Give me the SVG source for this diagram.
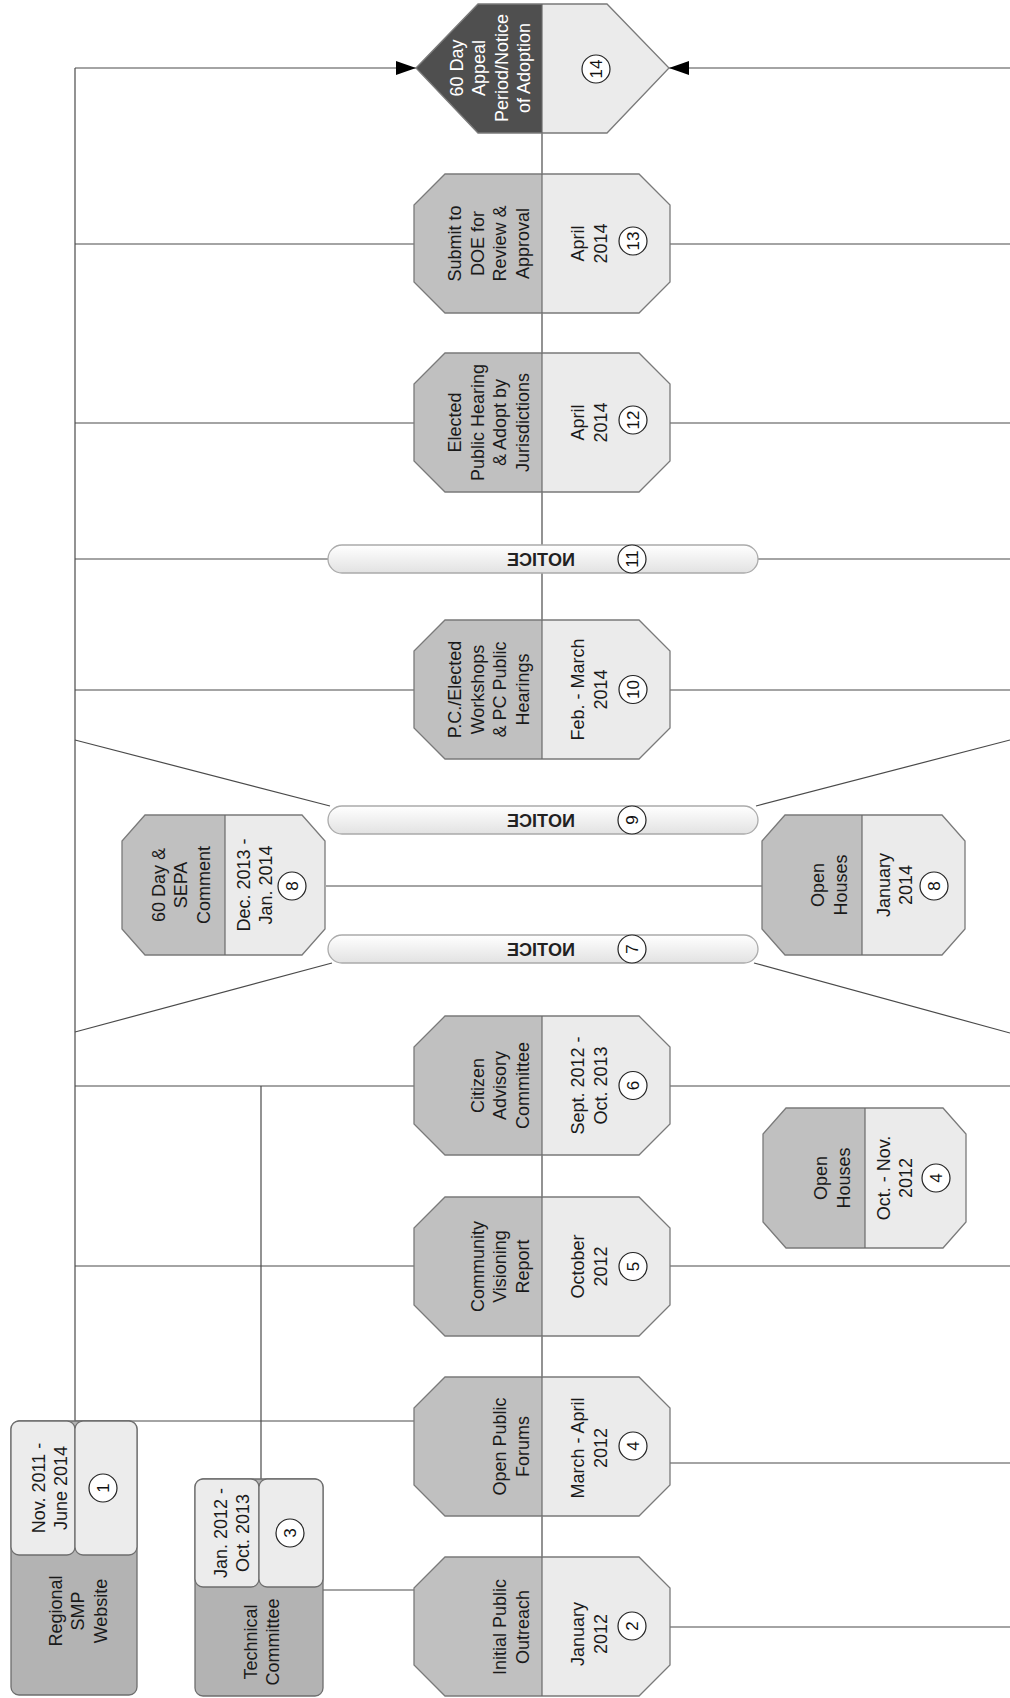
<svg xmlns="http://www.w3.org/2000/svg" width="1010" height="1698" viewBox="0 0 1010 1698">
<defs>
<marker id="arr" markerUnits="userSpaceOnUse" viewBox="0 0 20 14" refX="20" refY="7" markerWidth="20" markerHeight="14" orient="auto"><path d="M0,0 L20,7 L0,14 z" fill="#000"/></marker>
<linearGradient id="barg" x1="0" y1="0" x2="0" y2="1"><stop offset="0" stop-color="#ffffff"/><stop offset="1" stop-color="#e2e2e2"/></linearGradient>
</defs>
<style>
.c{stroke:#4a4a4a;stroke-width:1.2;fill:none}
.dk{fill:#c0c0c0}
.lt{fill:#ebebeb}
.ol{fill:none;stroke:#7a7a7a;stroke-width:1.3}
.dv{stroke:#6a6a6a;stroke-width:1.2}
.bx{fill:#b3b3b3;stroke:#6e6e6e;stroke-width:1.3}
.bl{fill:#ececec;stroke:#6e6e6e;stroke-width:1.3}
.bar{fill:url(#barg);stroke:#ababab;stroke-width:1.3}
.t{font-family:"Liberation Sans",Arial,sans-serif;font-size:18px;fill:#1a1a1a;text-anchor:middle}
.w{fill:#ffffff}
.n{font-family:"Liberation Sans",Arial,sans-serif;font-size:17px;fill:#111;text-anchor:middle}
.nt{font-family:"Liberation Sans",Arial,sans-serif;font-size:18px;font-weight:bold;fill:#222;text-anchor:middle}
.ci{fill:#fff;stroke:#222;stroke-width:1.2}
</style>
<rect width="1010" height="1698" fill="#fff"/>
<g id="connectors">
<line class="c" x1="75" y1="68" x2="75" y2="1421"/>
<line class="c" x1="75" y1="68" x2="416" y2="68" marker-end="url(#arr)"/>
<line class="c" x1="1010" y1="68" x2="669" y2="68" marker-end="url(#arr)"/>
<line class="c" x1="75" y1="244" x2="414" y2="244"/>
<line class="c" x1="670" y1="244" x2="1010" y2="244"/>
<line class="c" x1="75" y1="423" x2="414" y2="423"/>
<line class="c" x1="670" y1="423" x2="1010" y2="423"/>
<line class="c" x1="75" y1="559" x2="328" y2="559"/>
<line class="c" x1="758" y1="559" x2="1010" y2="559"/>
<line class="c" x1="75" y1="690" x2="414" y2="690"/>
<line class="c" x1="670" y1="690" x2="1010" y2="690"/>
<line class="c" x1="75" y1="740" x2="330" y2="806"/>
<line class="c" x1="1010" y1="740" x2="756" y2="806"/>
<line class="c" x1="326" y1="886" x2="762" y2="886"/>
<line class="c" x1="75" y1="1032" x2="332" y2="963"/>
<line class="c" x1="754" y1="963" x2="1010" y2="1033"/>
<line class="c" x1="75" y1="1086" x2="414" y2="1086"/>
<line class="c" x1="670" y1="1086" x2="1010" y2="1086"/>
<line class="c" x1="261" y1="1086" x2="261" y2="1479"/>
<line class="c" x1="75" y1="1266" x2="414" y2="1266"/>
<line class="c" x1="670" y1="1266" x2="1010" y2="1266"/>
<line class="c" x1="75" y1="1421" x2="414" y2="1421"/>
<line class="c" x1="670" y1="1463" x2="1010" y2="1463"/>
<line class="c" x1="323" y1="1590" x2="414" y2="1590"/>
<line class="c" x1="670" y1="1627" x2="1010" y2="1627"/>
<line class="c" x1="542" y1="133" x2="542" y2="620"/>
<line class="c" x1="542" y1="1155" x2="542" y2="1557"/>
</g>

<g id="n14">
<polygon points="416,68 478,4 542,4 542,133 478,133" fill="#4f4f4f"/>
<polygon class="lt" points="542,4 607,4 669,68 607,133 542,133"/>
<polygon class="ol" points="416,68 478,4 607,4 669,68 607,133 478,133"/>
<line class="dv" x1="542" y1="4" x2="542" y2="133"/>
<text class="t w" transform="translate(462.5,68) rotate(-90)"><tspan x="0" y="0">60 Day</tspan><tspan x="0" y="22.5">Appeal</tspan><tspan x="0" y="45">Period/Notice</tspan><tspan x="0" y="67.5">of Adoption</tspan></text>
<circle class="ci" cx="596" cy="69" r="14"/>
<text class="n" transform="translate(602,69) rotate(-90)">14</text>
</g>

<g id="n13">
<polygon class="dk" points="445,174 542,174 542,313 445,313 414,282 414,205"/>
<polygon class="lt" points="542,174 639,174 670,205 670,282 639,313 542,313"/>
<polygon class="ol" points="445,174 639,174 670,205 670,282 639,313 445,313 414,282 414,205"/>
<line class="dv" x1="542" y1="174" x2="542" y2="313"/>
<text class="t" transform="translate(461,243.5) rotate(-90)"><tspan x="0" y="0">Submit to</tspan><tspan x="0" y="22.5">DOE for</tspan><tspan x="0" y="45">Review &amp;</tspan><tspan x="0" y="67.5">Approval</tspan></text>
<text class="t" transform="translate(583.5,243.5) rotate(-90)"><tspan x="0" y="0">April</tspan><tspan x="0" y="23">2014</tspan></text>
<circle class="ci" cx="633" cy="241" r="14"/>
<text class="n" transform="translate(639,241) rotate(-90)">13</text>
</g>

<g id="n12">
<polygon class="dk" points="445,353 542,353 542,492 445,492 414,461 414,384"/>
<polygon class="lt" points="542,353 639,353 670,384 670,461 639,492 542,492"/>
<polygon class="ol" points="445,353 639,353 670,384 670,461 639,492 445,492 414,461 414,384"/>
<line class="dv" x1="542" y1="353" x2="542" y2="492"/>
<text class="t" transform="translate(461,422.5) rotate(-90)"><tspan x="0" y="0">Elected</tspan><tspan x="0" y="22.5">Public Hearing</tspan><tspan x="0" y="45">&amp; Adopt by</tspan><tspan x="0" y="67.5">Jurisdictions</tspan></text>
<text class="t" transform="translate(583.5,422.5) rotate(-90)"><tspan x="0" y="0">April</tspan><tspan x="0" y="23">2014</tspan></text>
<circle class="ci" cx="633" cy="420" r="14"/>
<text class="n" transform="translate(639,420) rotate(-90)">12</text>
</g>

<g id="n11">
<rect class="bar" x="328" y="545" width="430" height="28" rx="14"/>
<text class="nt" transform="translate(541,559) scale(-1,1)" y="6.5">NOTICE</text>
<circle class="ci" cx="632" cy="559" r="14"/>
<text class="n" transform="translate(638,559) rotate(-90)">11</text>
</g>

<g id="n10">
<polygon class="dk" points="445,620 542,620 542,759 445,759 414,728 414,651"/>
<polygon class="lt" points="542,620 639,620 670,651 670,728 639,759 542,759"/>
<polygon class="ol" points="445,620 639,620 670,651 670,728 639,759 445,759 414,728 414,651"/>
<line class="dv" x1="542" y1="620" x2="542" y2="759"/>
<text class="t" transform="translate(461,689.5) rotate(-90)"><tspan x="0" y="0">P.C./Elected</tspan><tspan x="0" y="22.5">Workshops</tspan><tspan x="0" y="45">&amp; PC Public</tspan><tspan x="0" y="67.5">Hearings</tspan></text>
<text class="t" transform="translate(583.5,689.5) rotate(-90)"><tspan x="0" y="0">Feb. - March</tspan><tspan x="0" y="23">2014</tspan></text>
<circle class="ci" cx="633" cy="689.5" r="14"/>
<text class="n" transform="translate(639,689.5) rotate(-90)">10</text>
</g>

<g id="n9">
<rect class="bar" x="328" y="806" width="430" height="28" rx="14"/>
<text class="nt" transform="translate(541,820) scale(-1,1)" y="6.5">NOTICE</text>
<circle class="ci" cx="632" cy="820" r="14"/>
<text class="n" transform="translate(638,820) rotate(-90)">9</text>
</g>

<g id="n8a">
<polygon class="dk" points="145,815 225,815 225,955 145,955 122,929 122,841"/>
<polygon class="lt" points="225,815 302,815 325,841 325,929 302,955 225,955"/>
<polygon class="ol" points="145,815 302,815 325,841 325,929 302,955 145,955 122,929 122,841"/>
<line class="dv" x1="225" y1="815" x2="225" y2="955"/>
<text class="t" transform="translate(164.5,885) rotate(-90)"><tspan x="0" y="0">60 Day &amp;</tspan><tspan x="0" y="22.5">SEPA</tspan><tspan x="0" y="45">Comment</tspan></text>
<text class="t" transform="translate(249.5,885) rotate(-90)"><tspan x="0" y="0">Dec. 2013 -</tspan><tspan x="0" y="22.5">Jan. 2014</tspan></text>
<circle class="ci" cx="292" cy="886" r="14"/>
<text class="n" transform="translate(298,886) rotate(-90)">8</text>
</g>

<g id="n8b">
<polygon class="dk" points="785,815 862,815 862,955 785,955 762,929 762,841"/>
<polygon class="lt" points="862,815 942,815 965,841 965,929 942,955 862,955"/>
<polygon class="ol" points="785,815 942,815 965,841 965,929 942,955 785,955 762,929 762,841"/>
<line class="dv" x1="862" y1="815" x2="862" y2="955"/>
<text class="t" transform="translate(824,885) rotate(-90)"><tspan x="0" y="0">Open</tspan><tspan x="0" y="22.5">Houses</tspan></text>
<text class="t" transform="translate(889.5,885) rotate(-90)"><tspan x="0" y="0">January</tspan><tspan x="0" y="22.5">2014</tspan></text>
<circle class="ci" cx="934" cy="886" r="14"/>
<text class="n" transform="translate(940,886) rotate(-90)">8</text>
</g>

<g id="n7">
<rect class="bar" x="328" y="935" width="430" height="28" rx="14"/>
<text class="nt" transform="translate(541,949) scale(-1,1)" y="6.5">NOTICE</text>
<circle class="ci" cx="632" cy="949" r="14"/>
<text class="n" transform="translate(638,949) rotate(-90)">7</text>
</g>

<g id="n6">
<polygon class="dk" points="445,1016 542,1016 542,1155 445,1155 414,1124 414,1047"/>
<polygon class="lt" points="542,1016 639,1016 670,1047 670,1124 639,1155 542,1155"/>
<polygon class="ol" points="445,1016 639,1016 670,1047 670,1124 639,1155 445,1155 414,1124 414,1047"/>
<line class="dv" x1="542" y1="1016" x2="542" y2="1155"/>
<text class="t" transform="translate(483.5,1085.5) rotate(-90)"><tspan x="0" y="0">Citizen</tspan><tspan x="0" y="22.5">Advisory</tspan><tspan x="0" y="45">Committee</tspan></text>
<text class="t" transform="translate(583.5,1085.5) rotate(-90)"><tspan x="0" y="0">Sept. 2012 -</tspan><tspan x="0" y="23">Oct. 2013</tspan></text>
<circle class="ci" cx="633" cy="1085.5" r="14"/>
<text class="n" transform="translate(639,1085.5) rotate(-90)">6</text>
</g>

<g id="n4b">
<polygon class="dk" points="786,1108 865,1108 865,1248 786,1248 763,1222 763,1134"/>
<polygon class="lt" points="865,1108 943,1108 966,1134 966,1222 943,1248 865,1248"/>
<polygon class="ol" points="786,1108 943,1108 966,1134 966,1222 943,1248 786,1248 763,1222 763,1134"/>
<line class="dv" x1="865" y1="1108" x2="865" y2="1248"/>
<text class="t" transform="translate(827,1178) rotate(-90)"><tspan x="0" y="0">Open</tspan><tspan x="0" y="22.5">Houses</tspan></text>
<text class="t" transform="translate(889.5,1178) rotate(-90)"><tspan x="0" y="0">Oct. - Nov.</tspan><tspan x="0" y="22.5">2012</tspan></text>
<circle class="ci" cx="936" cy="1178" r="14"/>
<text class="n" transform="translate(942,1178) rotate(-90)">4</text>
</g>

<g id="n5">
<polygon class="dk" points="445,1197 542,1197 542,1336 445,1336 414,1305 414,1228"/>
<polygon class="lt" points="542,1197 639,1197 670,1228 670,1305 639,1336 542,1336"/>
<polygon class="ol" points="445,1197 639,1197 670,1228 670,1305 639,1336 445,1336 414,1305 414,1228"/>
<line class="dv" x1="542" y1="1197" x2="542" y2="1336"/>
<text class="t" transform="translate(483.5,1266.5) rotate(-90)"><tspan x="0" y="0">Community</tspan><tspan x="0" y="22.5">Visioning</tspan><tspan x="0" y="45">Report</tspan></text>
<text class="t" transform="translate(583.5,1266.5) rotate(-90)"><tspan x="0" y="0">October</tspan><tspan x="0" y="23">2012</tspan></text>
<circle class="ci" cx="633" cy="1266.5" r="14"/>
<text class="n" transform="translate(639,1266.5) rotate(-90)">5</text>
</g>

<g id="n4a">
<polygon class="dk" points="445,1377 542,1377 542,1516 445,1516 414,1485 414,1408"/>
<polygon class="lt" points="542,1377 639,1377 670,1408 670,1485 639,1516 542,1516"/>
<polygon class="ol" points="445,1377 639,1377 670,1408 670,1485 639,1516 445,1516 414,1485 414,1408"/>
<line class="dv" x1="542" y1="1377" x2="542" y2="1516"/>
<text class="t" transform="translate(506,1446.5) rotate(-90)"><tspan x="0" y="0">Open Public</tspan><tspan x="0" y="22.5">Forums</tspan></text>
<text class="t" transform="translate(583.5,1448) rotate(-90)"><tspan x="0" y="0">March - April</tspan><tspan x="0" y="23">2012</tspan></text>
<circle class="ci" cx="633" cy="1446" r="14"/>
<text class="n" transform="translate(639,1446) rotate(-90)">4</text>
</g>

<g id="n2">
<polygon class="dk" points="445,1557 542,1557 542,1696 445,1696 414,1665 414,1588"/>
<polygon class="lt" points="542,1557 639,1557 670,1588 670,1665 639,1696 542,1696"/>
<polygon class="ol" points="445,1557 639,1557 670,1588 670,1665 639,1696 445,1696 414,1665 414,1588"/>
<line class="dv" x1="542" y1="1557" x2="542" y2="1696"/>
<text class="t" transform="translate(506,1627) rotate(-90)"><tspan x="0" y="0">Initial Public</tspan><tspan x="0" y="22.5">Outreach</tspan></text>
<text class="t" transform="translate(583.5,1634) rotate(-90)"><tspan x="0" y="0">January</tspan><tspan x="0" y="23">2012</tspan></text>
<circle class="ci" cx="632" cy="1626" r="14"/>
<text class="n" transform="translate(638,1626) rotate(-90)">2</text>
</g>

<g id="n1">
<rect class="bx" x="11" y="1421" width="126" height="274" rx="8"/>
<rect class="bl" x="11" y="1421" width="64" height="134" rx="8"/>
<rect class="bl" x="75" y="1421" width="62" height="134" rx="8"/>
<text class="t" transform="translate(44.5,1488) rotate(-90)"><tspan x="0" y="0">Nov. 2011 -</tspan><tspan x="0" y="22.5">June 2014</tspan></text>
<circle class="ci" cx="103" cy="1488" r="14"/>
<text class="n" transform="translate(109,1488) rotate(-90)">1</text>
<text class="t" transform="translate(61.5,1611) rotate(-90)"><tspan x="0" y="0">Regional</tspan><tspan x="0" y="22.5">SMP</tspan><tspan x="0" y="45">Website</tspan></text>
</g>

<g id="n3">
<rect class="bx" x="195" y="1479" width="128" height="217" rx="8"/>
<rect class="bl" x="195" y="1479" width="64" height="108" rx="8"/>
<rect class="bl" x="259" y="1479" width="64" height="108" rx="8"/>
<text class="t" transform="translate(226.5,1533) rotate(-90)"><tspan x="0" y="0">Jan. 2012 -</tspan><tspan x="0" y="22.5">Oct. 2013</tspan></text>
<circle class="ci" cx="290" cy="1533" r="14"/>
<text class="n" transform="translate(296,1533) rotate(-90)">3</text>
<text class="t" transform="translate(256.5,1642) rotate(-90)"><tspan x="0" y="0">Technical</tspan><tspan x="0" y="22.5">Committee</tspan></text>
</g>
</svg>
